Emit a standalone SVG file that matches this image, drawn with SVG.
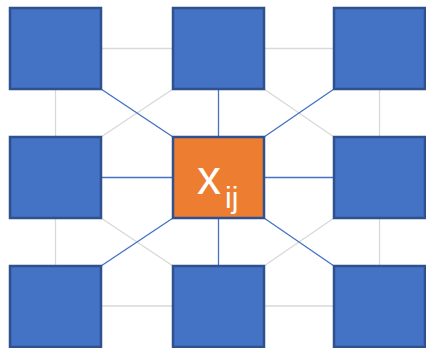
<svg xmlns="http://www.w3.org/2000/svg" width="426" height="348" viewBox="0 0 426 348">
<style>
.g{stroke:#D9D9D9;stroke-width:1.3;fill:none}
.b{stroke:#4472C4;stroke-width:1.3;fill:none}
.n{fill:#4472C4;stroke:#2F528F;stroke-width:2.5}
.c{fill:#ED7D31;stroke:#2F528F;stroke-width:2.5}
.t{fill:#FFFFFF;font-family:"Liberation Sans",Arial,sans-serif}
</style>
<rect width="426" height="348" fill="#FFFFFF"/>
<g id="connectors">
<line class="g" x1="101" y1="48.5" x2="173" y2="48.5"/>
<line class="g" x1="264" y1="48.5" x2="334" y2="48.5"/>
<line class="g" x1="101" y1="306" x2="173" y2="306"/>
<line class="g" x1="264" y1="306" x2="334" y2="306"/>
<line class="g" x1="55.5" y1="89" x2="55.5" y2="137"/>
<line class="g" x1="55.5" y1="218" x2="55.5" y2="266"/>
<line class="g" x1="379.5" y1="89" x2="379.5" y2="137"/>
<line class="g" x1="379.5" y1="218" x2="379.5" y2="266"/>
<line class="g" x1="173" y1="89" x2="101" y2="137"/>
<line class="g" x1="264" y1="89" x2="334" y2="137"/>
<line class="g" x1="101" y1="218" x2="173" y2="266"/>
<line class="g" x1="334" y1="218" x2="264" y2="266"/>
<line class="b" x1="101" y1="89" x2="173" y2="137"/>
<line class="b" x1="334" y1="89" x2="264" y2="137"/>
<line class="b" x1="173" y1="218" x2="101" y2="266"/>
<line class="b" x1="264" y1="218" x2="334" y2="266"/>
<line class="b" x1="218.5" y1="89" x2="218.5" y2="137"/>
<line class="b" x1="218.5" y1="218" x2="218.5" y2="266"/>
<line class="b" x1="101" y1="177.5" x2="173" y2="177.5"/>
<line class="b" x1="264" y1="177.5" x2="334" y2="177.5"/>
</g>
<g id="n11"><rect class="n" x="10" y="8" width="91" height="81"/></g>
<g id="n12"><rect class="n" x="173" y="8" width="91" height="81"/></g>
<g id="n13"><rect class="n" x="334" y="8" width="91" height="81"/></g>
<g id="n21"><rect class="n" x="10" y="137" width="91" height="81"/></g>
<g id="center"><rect class="c" x="173" y="137" width="91" height="81"/>
<text class="t" x="197" y="194" font-size="48">x<tspan x="225" y="208" font-size="30">ij</tspan></text></g>
<g id="n23"><rect class="n" x="334" y="137" width="91" height="81"/></g>
<g id="n31"><rect class="n" x="10" y="266" width="91" height="81"/></g>
<g id="n32"><rect class="n" x="173" y="266" width="91" height="81"/></g>
<g id="n33"><rect class="n" x="334" y="266" width="91" height="81"/></g>
</svg>
